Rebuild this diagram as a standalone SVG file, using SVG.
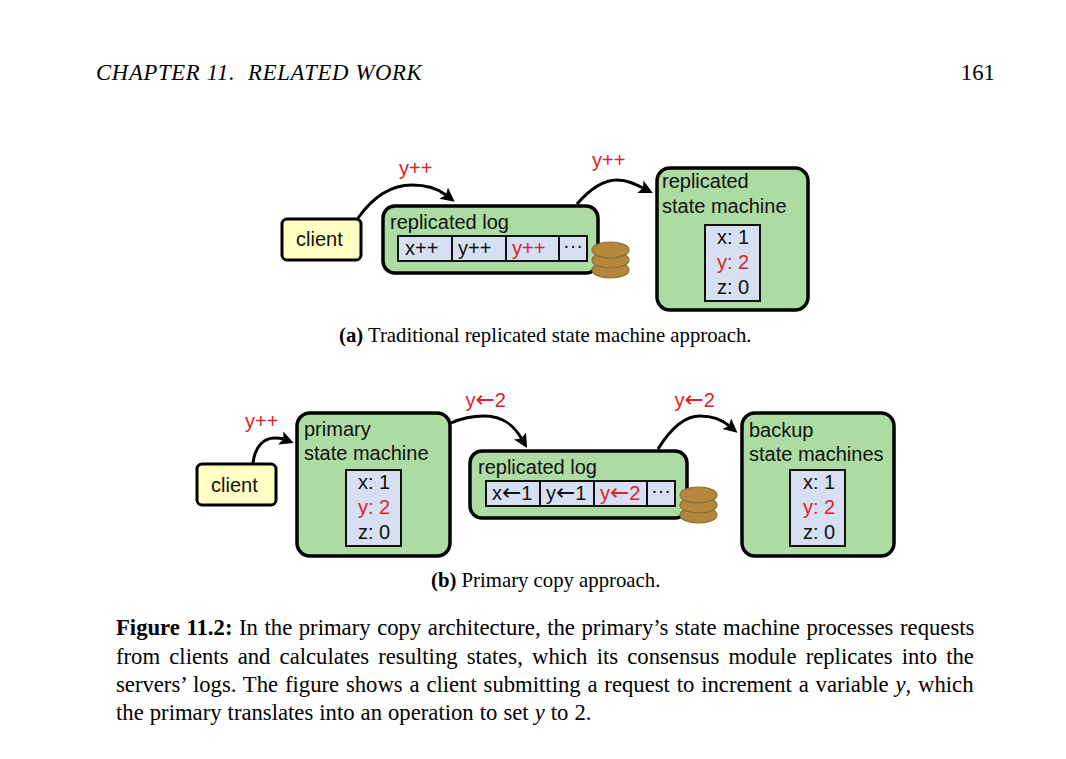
<svg xmlns="http://www.w3.org/2000/svg" width="1066" height="759" viewBox="0 0 1066 759">
<style>
text{font-family:"Liberation Sans",Arial,sans-serif;font-size:20px;fill:#111}
.r{fill:#e0202a}
.a{font-family:"DejaVu Sans",sans-serif;font-size:23px}
.p{font-family:"Liberation Serif","Times New Roman",serif;font-size:22.7px;fill:#000}
.c{font-size:20.75px}
.i{font-style:italic}
.b{font-weight:bold}
.m{text-anchor:middle}
.client{fill:#ffffc4;stroke:#000;stroke-width:3}
.box{fill:#addca3;stroke:#000;stroke-width:3.5}
.cell{fill:#d6e0f2;stroke:#111;stroke-width:2}
.coin{fill:#b5873c;stroke:#8a7038;stroke-width:1.2}
.conn{fill:none;stroke:#000;stroke-width:3;marker-end:url(#arrow)}
</style>
<defs>
<marker id="arrow" markerUnits="userSpaceOnUse" markerWidth="16" markerHeight="14" refX="3" refY="7" orient="auto">
<path d="M0,0 L14,7 L0,14 L3,7 Z" fill="#000"/>
</marker>
</defs>
<rect width="1066" height="759" fill="#fff"/>
<g id="page-text">
<text class="p i" x="96" y="79.7" xml:space="preserve" style="letter-spacing:.68px">CHAPTER 11.  RELATED WORK</text>
<text class="p" x="960.8" y="79.7">161</text>
<text class="p c" x="339" y="342"><tspan class="b">(a)</tspan> Traditional replicated state machine approach.</text>
<text class="p c" x="431" y="587"><tspan class="b">(b)</tspan> Primary copy approach.</text>
<text class="p" x="116" y="635.4" style="word-spacing:.9px"><tspan class="b">Figure 11.2:</tspan> In the primary copy architecture, the primary’s state machine processes requests</text>
<text class="p" x="116" y="664.2" style="word-spacing:3.5px">from clients and calculates resulting states, which its consensus module replicates into the</text>
<text class="p" x="116" y="692.4" style="word-spacing:1.15px">servers’ logs. The figure shows a client submitting a request to increment a variable <tspan class="i">y</tspan>, which</text>
<text class="p" x="116" y="720.4" style="word-spacing:.35px">the primary translates into an operation to set <tspan class="i">y</tspan> to 2.</text>
</g>
<g id="connectors">
<path class="conn" d="M358,218 C373,197 392,185 412,185 C426,185 437,188 446,195"/>
<path class="conn" d="M577,204 C590,189 603,180 617,180 C627,180 635,184 643,188"/>
<path class="conn" d="M253,463 C255,447 263,438 275,438 C278,438 281,438 283.5,439"/>
<path class="conn" d="M451,423 C462,418 473,416 484,416 C502,416 513,424 521.5,438.5"/>
<path class="conn" d="M658,449 C671,428 684,416 700,416 C711,416 721,419 729,425.7"/>
</g>
<g id="connector-labels">
<text class="r" x="399" y="175">y++</text>
<text class="r" x="592" y="167">y++</text>
<text class="r" x="245" y="428">y++</text>
<text class="r" x="465.5" y="407">y<tspan class="a">←</tspan>2</text>
<text class="r" x="674.5" y="407">y<tspan class="a">←</tspan>2</text>
</g>
<g id="client-a">
<rect class="client" x="282" y="219" width="79" height="41" rx="5"/>
<text x="296" y="246">client</text>
</g>
<g id="log-a">
<rect class="box" x="383" y="206" width="215" height="67" rx="12"/>
<ellipse class="coin" cx="610.5" cy="270" rx="18.5" ry="8"/>
<ellipse class="coin" cx="610.5" cy="260" rx="18.5" ry="8"/>
<ellipse class="coin" cx="610.5" cy="250" rx="18.5" ry="8"/>
<text x="390" y="229">replicated log</text>
<rect class="cell" x="398" y="236" width="189" height="25"/>
<path class="cell" d="M452,236V261M506,236V261M559,236V261"/>
<text x="405" y="255">x++</text>
<text x="458" y="255">y++</text>
<text class="r" x="512" y="255">y++</text>
<text class="m" x="573" y="252">···</text>
</g>
<g id="machine-a">
<rect class="box" x="657" y="168" width="151" height="142" rx="13"/>
<text x="662" y="188">replicated</text>
<text x="662" y="213">state machine</text>
<rect class="cell" x="705" y="225" width="55" height="76"/>
<text x="717" y="244">x: 1</text>
<text class="r" x="717" y="269">y: 2</text>
<text x="717" y="294">z: 0</text>
</g>
<g id="client-b">
<rect class="client" x="197" y="464" width="79" height="41" rx="5"/>
<text x="211" y="492">client</text>
</g>
<g id="primary-b">
<rect class="box" x="297" y="413" width="153" height="143" rx="13"/>
<text x="304" y="436">primary</text>
<text x="304" y="460">state machine</text>
<rect class="cell" x="346" y="470" width="55" height="76"/>
<text x="358" y="489">x: 1</text>
<text class="r" x="358" y="514">y: 2</text>
<text x="358" y="539">z: 0</text>
</g>
<g id="log-b">
<rect class="box" x="470" y="451" width="217" height="67" rx="12"/>
<ellipse class="coin" cx="698.5" cy="515" rx="18.5" ry="8"/>
<ellipse class="coin" cx="698.5" cy="505" rx="18.5" ry="8"/>
<ellipse class="coin" cx="698.5" cy="495" rx="18.5" ry="8"/>
<text x="478" y="474">replicated log</text>
<rect class="cell" x="486" y="481" width="189" height="25"/>
<path class="cell" d="M540,481V506M594,481V506M647,481V506"/>
<text x="492" y="500">x<tspan class="a">←</tspan>1</text>
<text x="546" y="500">y<tspan class="a">←</tspan>1</text>
<text class="r" x="600" y="500">y<tspan class="a">←</tspan>2</text>
<text class="m" x="661" y="497">···</text>
</g>
<g id="backup-b">
<rect class="box" x="742" y="413" width="152" height="143" rx="13"/>
<text x="749" y="437">backup</text>
<text x="749" y="461">state machines</text>
<rect class="cell" x="790" y="470" width="55" height="76"/>
<text x="803" y="489">x: 1</text>
<text class="r" x="803" y="514">y: 2</text>
<text x="803" y="539">z: 0</text>
</g>
</svg>
